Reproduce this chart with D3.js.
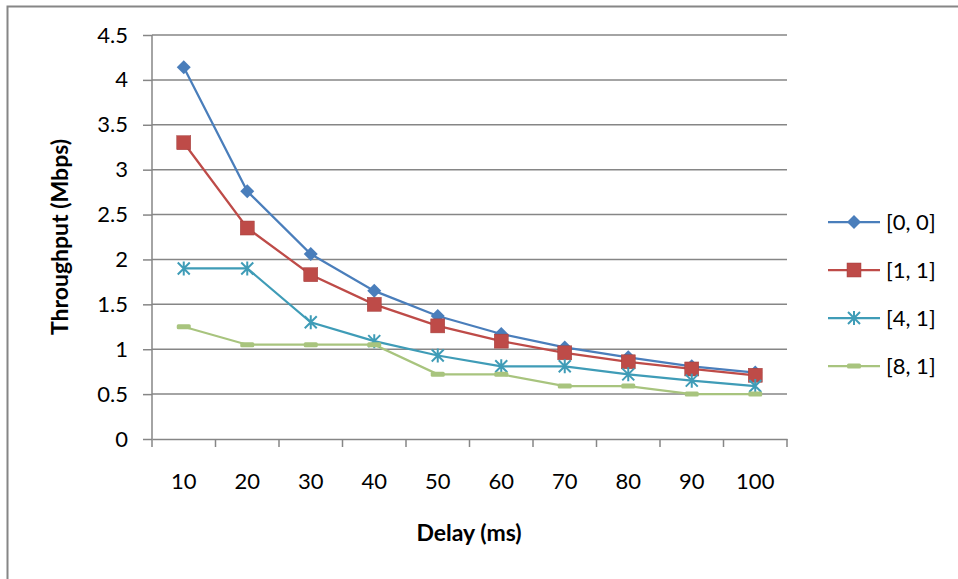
<!DOCTYPE html>
<html><head><meta charset="utf-8">
<script src="https://cdn.jsdelivr.net/npm/d3@7"></script>
<style>body{margin:0;background:#fff}svg{display:block}</style>
</head><body>
<script>
const categories = [10,20,30,40,50,60,70,80,90,100];
const seriesNames = ["[0, 0]","[1, 1]","[4, 1]","[8, 1]"];
const s00 = [4.14,2.76,2.06,1.65,1.37,1.17,1.02,0.91,0.81,0.74];
const s11 = [3.30,2.35,1.83,1.50,1.26,1.09,0.96,0.86,0.78,0.71];
const s41 = [1.90,1.90,1.30,1.09,0.93,0.81,0.81,0.72,0.65,0.59];
const s81 = [1.25,1.05,1.05,1.05,0.72,0.72,0.59,0.59,0.50,0.50];
const yTicks = [0,0.5,1,1.5,2,2.5,3,3.5,4,4.5];
const colors = ["#4A7EBB","#BE4B48","#3F9CB7","#A8C47E"];
const markers = ["diamond","square","star","dash"];
const allSeries = [s00,s11,s41,s81];

const W=958,H=579;
const svg=d3.select("body").append("svg").attr("width",W).attr("height",H);
const font="Lato, 'Open Sans', sans-serif";
// frame
svg.append("path").attr("d","M7.5,579 V6.5 H958").attr("fill","none").attr("stroke","#868686").attr("stroke-width",2);

const L=152,R=787,T=35,B=439;
const x=d3.scaleBand().domain(categories).range([L,R]);
const y=d3.scaleLinear().domain([0,4.5]).range([B,T]);

// gridlines
svg.append("g").selectAll("line").data(yTicks.filter(d=>d>0)).join("line")
  .attr("x1",L).attr("x2",R).attr("y1",d=>y(d)).attr("y2",d=>y(d))
  .attr("stroke","#868686").attr("stroke-width",1.5);

// y axis
const ya=svg.append("g").attr("transform",`translate(${L},0)`)
  .call(d3.axisLeft(y).tickValues(yTicks).tickSize(9).tickPadding(8).tickFormat(d3.format("")));
ya.select(".domain").attr("stroke","#868686").attr("stroke-width",1.5).attr("d",`M0,${T}V${B}`);
ya.selectAll(".tick line").attr("stroke","#868686").attr("stroke-width",1.5);
ya.selectAll("text").attr("font-family",font).attr("font-size",22).attr("fill","#000").attr("dx",-7);

// x axis
const xa=svg.append("g").attr("transform",`translate(0,${B})`)
  .call(d3.axisBottom(x).tickSize(0).tickPadding(34));
xa.select(".domain").attr("stroke","#868686").attr("stroke-width",1.5);
xa.selectAll("text").attr("font-family",font).attr("font-size",22).attr("fill","#000");
// category boundary ticks
const bounds=categories.map(c=>x(c)).concat([R]);
svg.append("g").selectAll("line").data(bounds).join("line")
  .attr("x1",d=>d).attr("x2",d=>d).attr("y1",B).attr("y2",B+8)
  .attr("stroke","#868686").attr("stroke-width",1.5);

// titles
svg.append("text").attr("x",469).attr("y",541).attr("text-anchor","middle")
  .attr("font-family",font).attr("font-size",23).attr("font-weight","bold").text("Delay (ms)");
svg.append("text").attr("transform","translate(68,237) rotate(-90)").attr("text-anchor","middle")
  .attr("font-family",font).attr("font-size",23).attr("font-weight","bold").text("Throughput (Mbps)");

function drawMarker(g,type,color){
  if(type==="diamond") g.append("path").attr("d","M0,-7L7,0L0,7L-7,0Z").attr("fill",color);
  else if(type==="square") g.append("rect").attr("x",-7).attr("y",-7).attr("width",14).attr("height",14).attr("fill",color).attr("stroke","#A33F3C").attr("stroke-width",0.5);
  else if(type==="star"){
    g.append("path").attr("d","M-6,-6L6,6M-6,6L6,-6M0,-7V7").attr("stroke",color).attr("stroke-width",2).attr("fill","none");
  } else g.append("rect").attr("x",-7).attr("y",-2.5).attr("width",14).attr("height",5).attr("rx",1.5).attr("fill",color);
}

const line=d3.line().x((d,i)=>x(categories[i])+x.bandwidth()/2).y(d=>y(d));
allSeries.forEach((s,k)=>{
  svg.append("path").datum(s).attr("d",line).attr("fill","none").attr("stroke",colors[k]).attr("stroke-width",2.25);
});
allSeries.forEach((s,k)=>{
  s.forEach((v,i)=>{
    const g=svg.append("g").attr("transform",`translate(${x(categories[i])+x.bandwidth()/2},${y(v)})`);
    drawMarker(g,markers[k],colors[k]);
  });
});

// legend
const ly=[222,270,318,366];
seriesNames.forEach((n,k)=>{
  const g=svg.append("g").attr("transform",`translate(0,${ly[k]})`);
  g.append("line").attr("x1",828).attr("x2",880).attr("stroke",colors[k]).attr("stroke-width",2.25);
  const m=g.append("g").attr("transform","translate(854,0)");
  drawMarker(m,markers[k],colors[k]);
  g.append("text").attr("x",886).attr("y",0).attr("dy","0.35em").attr("font-family",font).attr("font-size",22).text(n);
});
</script>
</body></html>
